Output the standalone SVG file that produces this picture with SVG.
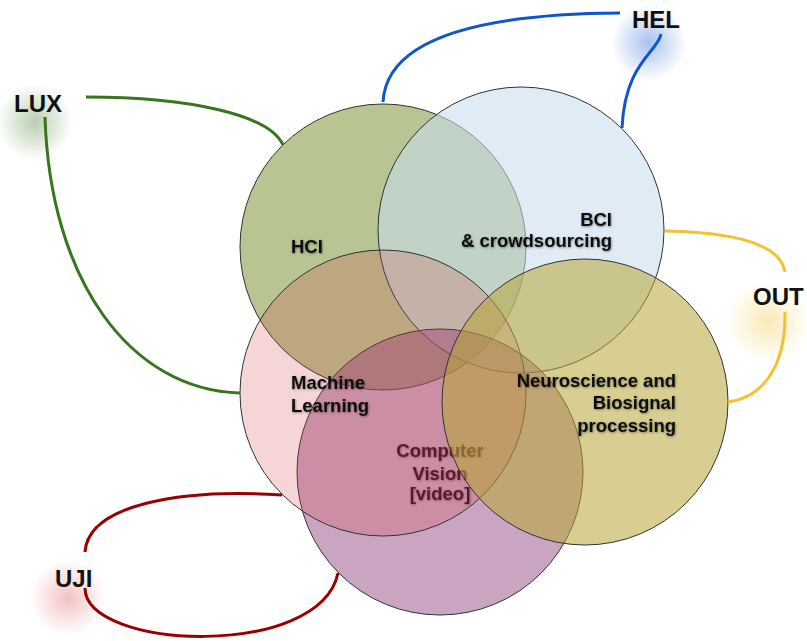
<svg xmlns="http://www.w3.org/2000/svg" width="807" height="641" viewBox="0 0 807 641">
  <defs>
    <radialGradient id="gBlue"><stop offset="0" stop-color="#3c78d8" stop-opacity="0.45"/><stop offset="1" stop-color="#3c78d8" stop-opacity="0"/></radialGradient>
    <radialGradient id="gGreen"><stop offset="0" stop-color="#38761d" stop-opacity="0.35"/><stop offset="1" stop-color="#38761d" stop-opacity="0"/></radialGradient>
    <radialGradient id="gYellow"><stop offset="0" stop-color="#f1c232" stop-opacity="0.35"/><stop offset="1" stop-color="#f1c232" stop-opacity="0"/></radialGradient>
    <radialGradient id="gRed"><stop offset="0" stop-color="#e06666" stop-opacity="0.4"/><stop offset="1" stop-color="#e06666" stop-opacity="0"/></radialGradient>
    <filter id="soft" x="-10%" y="-30%" width="120%" height="160%">
      <feDropShadow dx="0.6" dy="0.8" stdDeviation="0.8" flood-color="#000" flood-opacity="0.45"/>
    </filter>
  </defs>
  <style>
    .circ { stroke: #333; stroke-width: 1; }
    .lbl { font-family: "Liberation Sans", Arial, sans-serif; font-weight: bold; font-size: 18.5px; fill: #111; filter: url(#soft); }
    .site { font-family: "Liberation Sans", Arial, sans-serif; font-weight: bold; font-size: 24px; fill: #111; }
    .conn { fill: none; stroke-width: 3; stroke-linecap: butt; }
  </style>

  <g id="glows">
    <circle cx="649" cy="43" r="38" fill="url(#gBlue)"/>
    <circle cx="35" cy="122" r="38" fill="url(#gGreen)"/>
    <circle cx="768" cy="322" r="42" fill="url(#gYellow)"/>
    <circle cx="68" cy="598" r="38" fill="url(#gRed)"/>
  </g>

  <g id="hci">
    <circle class="circ" cx="383" cy="247" r="143" fill="#899e4b" fill-opacity="0.6"/>
    <text class="lbl" x="291" y="253">HCI</text>
  </g>
  <g id="bci">
    <circle class="circ" cx="521" cy="230" r="143" fill="#c8dbef" fill-opacity="0.57"/>
    <text class="lbl" text-anchor="end" x="612" y="226">BCI</text>
    <text class="lbl" text-anchor="end" x="612" y="247">&amp; crowdsourcing</text>
  </g>
  <g id="cv">
    <circle class="circ" cx="440" cy="472" r="143" fill="#934b85" fill-opacity="0.5"/>
    <text class="lbl" text-anchor="middle" style="fill:#3a0f22" x="440" y="457">Computer</text>
    <text class="lbl" text-anchor="middle" style="fill:#3a0f22" x="440" y="480">Vision</text>
    <text class="lbl" text-anchor="middle" style="fill:#3a0f22" x="440" y="500">[video]</text>
  </g>
  <g id="ml">
    <circle class="circ" cx="383" cy="393" r="143" fill="#d14040" fill-opacity="0.22"/>
    <text class="lbl" x="291" y="389">Machine</text>
    <text class="lbl" x="291" y="412">Learning</text>
  </g>
  <g id="neuro">
    <circle class="circ" cx="585" cy="402" r="143" fill="#b8a537" fill-opacity="0.55"/>
    <text class="lbl" text-anchor="end" x="676" y="387">Neuroscience and</text>
    <text class="lbl" text-anchor="end" x="676" y="409">Biosignal</text>
    <text class="lbl" text-anchor="end" x="676" y="432">processing</text>
  </g>

  <g id="connectors">
    <path class="conn" stroke="#1155cc" d="M383 102 C386 45, 460 14, 620 13"/>
    <path class="conn" stroke="#1155cc" d="M661 34 C658 52, 625 62, 622 128"/>
    <path class="conn" stroke="#38761d" d="M86 97 C190 97, 270 115, 283 145"/>
    <path class="conn" stroke="#38761d" d="M45 117 C50 280, 130 390, 240 393"/>
    <path class="conn" stroke="#f1c232" d="M665 231 C720 232, 780 240, 785 272"/>
    <path class="conn" stroke="#f1c232" d="M785 312 C786 370, 760 398, 728 402"/>
    <path class="conn" stroke="#990000" d="M282 495 C180 488, 88 505, 85 552"/>
    <path class="conn" stroke="#990000" d="M85 588 C85 650, 320 660, 338 573"/>
  </g>

  <g id="hel"><text class="site" x="632" y="28">HEL</text></g>
  <g id="lux"><text class="site" x="14" y="112">LUX</text></g>
  <g id="out"><text class="site" x="753" y="305">OUT</text></g>
  <g id="uji"><text class="site" x="55" y="587">UJI</text></g>
</svg>
